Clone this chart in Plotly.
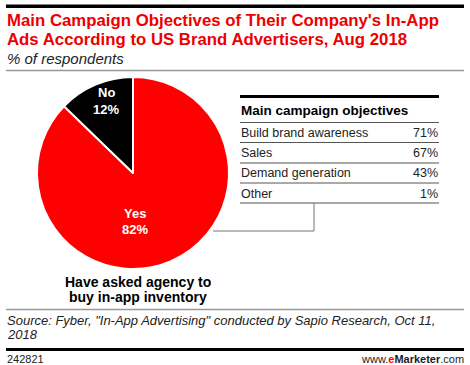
import plotly.graph_objects as go

W, H = 470, 365

# ---- data ----
pie_labels = ["Yes", "No"]
pie_values = [82, 12]
pie_colors = ["#ff0000", "#000000"]
objectives = ["Build brand awareness", "Sales", "Demand generation", "Other"]
objective_pct = [71, 67, 43, 1]

title_lines = ["Main Campaign Objectives of Their Company's In-App",
               "Ads According to US Brand Advertisers, Aug 2018"]
subtitle = "% of respondents"
pie_caption = ["Have asked agency to", "buy in-app inventory"]
table_header = "Main campaign objectives"
source_lines = ['Source: Fyber, "In-App Advertising" conducted by Sapio Research, Oct 11,',
                "2018"]
chart_id = "242821"


def px(x):
    return x / W


def py(y):
    return 1 - y / H


# pie geometry (pixels)
cx, cy, r = 133, 173, 96

fig = go.Figure()
fig.add_trace(go.Pie(
    labels=pie_labels, values=pie_values,
    marker=dict(colors=pie_colors, line=dict(color="white", width=2)),
    sort=False, direction="clockwise", rotation=0,
    textinfo="none", hoverinfo="label+value", showlegend=False,
    domain=dict(x=[px(cx - r), px(cx + r)], y=[py(cy + r), py(cy - r)]),
))

FONT = "Liberation Sans, Arial, sans-serif"
ann = []
shapes = []


def text(x, y, t, size, color="#000", xanchor="left", bold=False, italic=False):
    if bold:
        t = "<b>" + t + "</b>"
    if italic:
        t = "<i>" + t + "</i>"
    ann.append(dict(x=px(x), y=py(y), xref="paper", yref="paper", text=t,
                    showarrow=False, xanchor=xanchor, yanchor="middle",
                    font=dict(family=FONT, size=size, color=color)))


def hline(x0, x1, y, color, width):
    shapes.append(dict(type="line", xref="paper", yref="paper",
                       x0=px(x0), x1=px(x1), y0=py(y), y1=py(y),
                       line=dict(color=color, width=width)))


def band(x0, x1, y0, y1, color):
    shapes.append(dict(type="rect", xref="paper", yref="paper",
                       x0=px(x0), x1=px(x1), y0=py(y1), y1=py(y0),
                       fillcolor=color, line=dict(width=0)))


def vline(x, y0, y1, color, width):
    shapes.append(dict(type="line", xref="paper", yref="paper",
                       x0=px(x), x1=px(x), y0=py(y0), y1=py(y1),
                       line=dict(color=color, width=width)))


# header
band(6, 464, 4.5, 8, "#000")
text(5, 21, title_lines[0], 16.8, color="#ee0000", bold=True)
text(5, 39, title_lines[1], 16.8, color="#ee0000", bold=True)
text(5, 58, subtitle, 15, color="#222", italic=True)
hline(6, 464, 70.5, "#999", 1.5)

# pie labels
no_i = pie_labels.index("No")
yes_i = pie_labels.index("Yes")
text(106, 93, pie_labels[no_i], 13, color="#fff", xanchor="center", bold=True)
text(106, 109, f"{pie_values[no_i]}%", 13, color="#fff", xanchor="center", bold=True)
text(135, 213, pie_labels[yes_i], 13, color="#fff", xanchor="center", bold=True)
text(135, 229, f"{pie_values[yes_i]}%", 13, color="#fff", xanchor="center", bold=True)

text(138, 282, pie_caption[0], 14, xanchor="center", bold=True)
text(138, 297, pie_caption[1], 14, xanchor="center", bold=True)

# table
tx0, tx1 = 240, 439
band(tx0, tx1, 95, 98, "#000")
text(tx0 - 1, 110, table_header, 13.5, bold=True)
hline(tx0, tx1, 122.5, "#555", 1)
row_y = [133, 153, 173, 194]
line_y = [142.5, 163, 183, 203]
for name, v, ry, ly in zip(objectives, objective_pct, row_y, line_y):
    text(tx0 - 1, ry, name, 12.5, color="#222")
    text(tx1 + 1, ry, f"{v}%", 12.5, color="#222", xanchor="right")
    hline(tx0, tx1, ly, "#555", 1)

# connector
vline(314, 203, 231, "#777", 1)
hline(213, 314, 231, "#777", 1)

# footer
hline(6, 464, 309.5, "#999", 1.5)
text(5, 320, source_lines[0], 13, color="#222", italic=True)
text(5, 334, source_lines[1], 13, color="#222", italic=True)
band(6, 464, 348, 351, "#000")
text(5, 359, chart_id, 11, color="#222")
ann.append(dict(x=px(466), y=py(359), xref="paper", yref="paper",
                text="www.<b><span style='color:#ff0000'>e</span>Marketer</b>.com",
                showarrow=False, xanchor="right", yanchor="middle",
                font=dict(family=FONT, size=11, color="#222")))

fig.update_layout(
    width=W, height=H, margin=dict(l=0, r=0, t=0, b=0),
    paper_bgcolor="white", plot_bgcolor="white",
    annotations=ann, shapes=shapes,
)
fig.write_html("out.html", config={"displayModeBar": False},
               post_script="document.body.style.margin='0';")
